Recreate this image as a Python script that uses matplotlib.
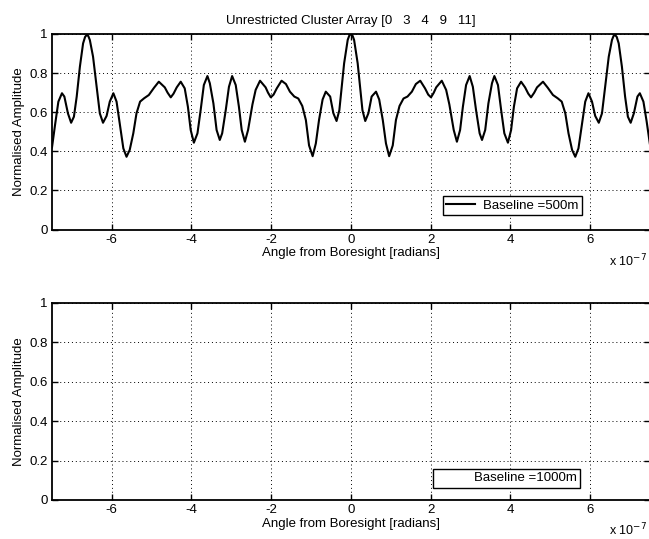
import matplotlib
matplotlib.use("Agg")
import matplotlib.pyplot as plt

plt.rcParams['font.family'] = ['Liberation Sans', 'DejaVu Sans']
plt.rcParams['axes.unicode_minus'] = False

title_text = "Unrestricted Cluster Array [0   3   4   9   11]"
xlabel_text = "Angle from Boresight [radians]"
ylabel_text = "Normalised Amplitude"
exp_text = "x 10$^{-7}$"
legend_top = "Baseline =500m"
legend_bottom = "Baseline =1000m"

x_ticks = [-6, -4, -2, 0, 2, 4, 6]
x_ticklabels = ["-6", "-4", "-2", "0", "2", "4", "6"]
y_ticks = [0, 0.2, 0.4, 0.6, 0.8, 1.0]
y_ticklabels = ["0", "0.2", "0.4", "0.6", "0.8", "1"]

angle = [
    -7.50, -7.42, -7.34, -7.25, -7.19, -7.10, -7.02, -6.95, -6.88, -6.80,
    -6.72, -6.67, -6.63, -6.59, -6.55, -6.47, -6.38, -6.30, -6.22, -6.13, -6.05, -5.96,
    -5.88, -5.80, -5.71, -5.63, -5.55, -5.46, -5.38, -5.29, -5.19, -5.07,
    -4.94, -4.82, -4.67, -4.60, -4.52, -4.45, -4.37, -4.27, -4.17, -4.09,
    -4.02, -3.94, -3.85, -3.77, -3.69, -3.60, -3.54, -3.45, -3.37, -3.29,
    -3.23, -3.14, -3.06, -2.98, -2.89, -2.81, -2.74, -2.66, -2.58, -2.53,
    -2.47, -2.39, -2.28, -2.14, -2.08, -2.01, -1.94, -1.86, -1.74, -1.63,
    -1.53, -1.42, -1.32, -1.22, -1.13, -1.05, -0.96, -0.88, -0.80, -0.71,
    -0.63, -0.52, -0.44, -0.36, -0.29, -0.22, -0.17, -0.08, -0.04,
    0.00,
    0.04, 0.08, 0.17, 0.22, 0.29, 0.36, 0.44, 0.52, 0.63, 0.71, 0.80,
    0.88, 0.96, 1.05, 1.13, 1.22, 1.32, 1.42, 1.53, 1.63, 1.74,
    1.86, 1.94, 2.01, 2.08, 2.14, 2.28, 2.39, 2.47, 2.53, 2.58,
    2.66, 2.74, 2.81, 2.89, 2.98, 3.06, 3.14, 3.23, 3.29, 3.37,
    3.45, 3.54, 3.60, 3.69, 3.77, 3.85, 3.94, 4.02, 4.09, 4.17,
    4.27, 4.37, 4.45, 4.52, 4.60, 4.67, 4.82, 4.94, 5.07, 5.19,
    5.29, 5.38, 5.46, 5.55, 5.63, 5.71, 5.80, 5.88, 5.96, 6.05,
    6.13, 6.22, 6.30, 6.38, 6.47, 6.55, 6.59, 6.63, 6.67, 6.72, 6.80, 6.88,
    6.95, 7.02, 7.10, 7.19, 7.25, 7.34, 7.42, 7.50,
]
amplitude_500m = [
    0.420, 0.540, 0.654, 0.697, 0.680, 0.594, 0.546, 0.577, 0.680, 0.833,
    0.952, 0.985, 0.995, 0.990, 0.969, 0.884, 0.730, 0.594, 0.546, 0.581, 0.654, 0.697,
    0.654, 0.543, 0.415, 0.372, 0.407, 0.492, 0.594, 0.654, 0.671, 0.688,
    0.725, 0.756, 0.727, 0.700, 0.676, 0.695, 0.727, 0.756, 0.722, 0.628,
    0.509, 0.444, 0.492, 0.611, 0.739, 0.785, 0.748, 0.645, 0.509, 0.458,
    0.492, 0.611, 0.730, 0.785, 0.739, 0.628, 0.509, 0.449, 0.509, 0.570,
    0.640, 0.714, 0.761, 0.727, 0.700, 0.676, 0.690, 0.722, 0.761, 0.744,
    0.705, 0.680, 0.670, 0.632, 0.560, 0.430, 0.375, 0.440, 0.560, 0.665,
    0.705, 0.680, 0.595, 0.555, 0.610, 0.750, 0.850, 0.970, 0.992,
    1.000,
    0.992, 0.970, 0.850, 0.750, 0.610, 0.555, 0.595, 0.680, 0.705, 0.665, 0.560,
    0.440, 0.375, 0.430, 0.560, 0.632, 0.670, 0.680, 0.705, 0.744, 0.761,
    0.722, 0.690, 0.676, 0.700, 0.727, 0.761, 0.714, 0.640, 0.570, 0.509,
    0.449, 0.509, 0.628, 0.739, 0.785, 0.730, 0.611, 0.492, 0.458, 0.509,
    0.645, 0.748, 0.785, 0.739, 0.611, 0.492, 0.444, 0.509, 0.628, 0.722,
    0.756, 0.727, 0.695, 0.676, 0.700, 0.727, 0.756, 0.725, 0.688, 0.671,
    0.654, 0.594, 0.492, 0.407, 0.372, 0.415, 0.543, 0.654, 0.697, 0.654,
    0.581, 0.546, 0.594, 0.730, 0.884, 0.969, 0.990, 0.995, 0.985, 0.952, 0.833, 0.680,
    0.577, 0.546, 0.594, 0.680, 0.697, 0.654, 0.554, 0.440,
]

W, H = 649, 539
FS = 9.5
fig = plt.figure(figsize=(W / 100, H / 100), dpi=100)

def px_axes(left, right, top, bottom):
    return fig.add_axes([left / W, 1 - bottom / H, (right - left) / W, (bottom - top) / H])

ax1 = px_axes(52, 649.8, 34, 229.5)
ax2 = px_axes(52, 649.8, 302.7, 500)

for ax in (ax1, ax2):
    ax.set_xlim(-7.5, 7.5)
    ax.set_ylim(0, 1)
    ax.set_xticks(x_ticks)
    ax.set_xticklabels(x_ticklabels)
    ax.set_yticks(y_ticks)
    ax.set_yticklabels(y_ticklabels)
    ax.tick_params(direction='in', length=4, width=1.0, top=True, right=True,
                   labelsize=FS, pad=3, colors='black')
    ax.grid(True, color='black', linestyle=(0, (1, 3)), linewidth=0.7)
    for s in ax.spines.values():
        s.set_linewidth(1.3)
        s.set_color('black')
    ax.set_xlabel(xlabel_text, fontsize=FS, labelpad=1)
    ax.set_ylabel(ylabel_text, fontsize=FS, labelpad=3)

ax1.plot(angle, amplitude_500m, color='black', linewidth=1.5, label=legend_top)
ax2.plot([], [], color='none', label=legend_bottom)

leg_kw = dict(loc='lower right', fontsize=FS, fancybox=False, framealpha=1,
              edgecolor='black', borderpad=0.25, handlelength=2.2, handletextpad=0.6,
              borderaxespad=0)
l1 = ax1.legend(bbox_to_anchor=(0.886, 0.075), **leg_kw)
l2 = ax2.legend(bbox_to_anchor=(0.883, 0.062), **leg_kw)
for l in (l1, l2):
    l.get_frame().set_linewidth(1.0)

ax1.set_title(title_text, fontsize=FS, pad=7)

fig.text(647 / W, 1 - 266 / H, exp_text, fontsize=9, va='baseline', ha='right')
fig.text(647 / W, 1 - 535 / H, exp_text, fontsize=9, va='baseline', ha='right')

fig.savefig("out.png", dpi=100)
